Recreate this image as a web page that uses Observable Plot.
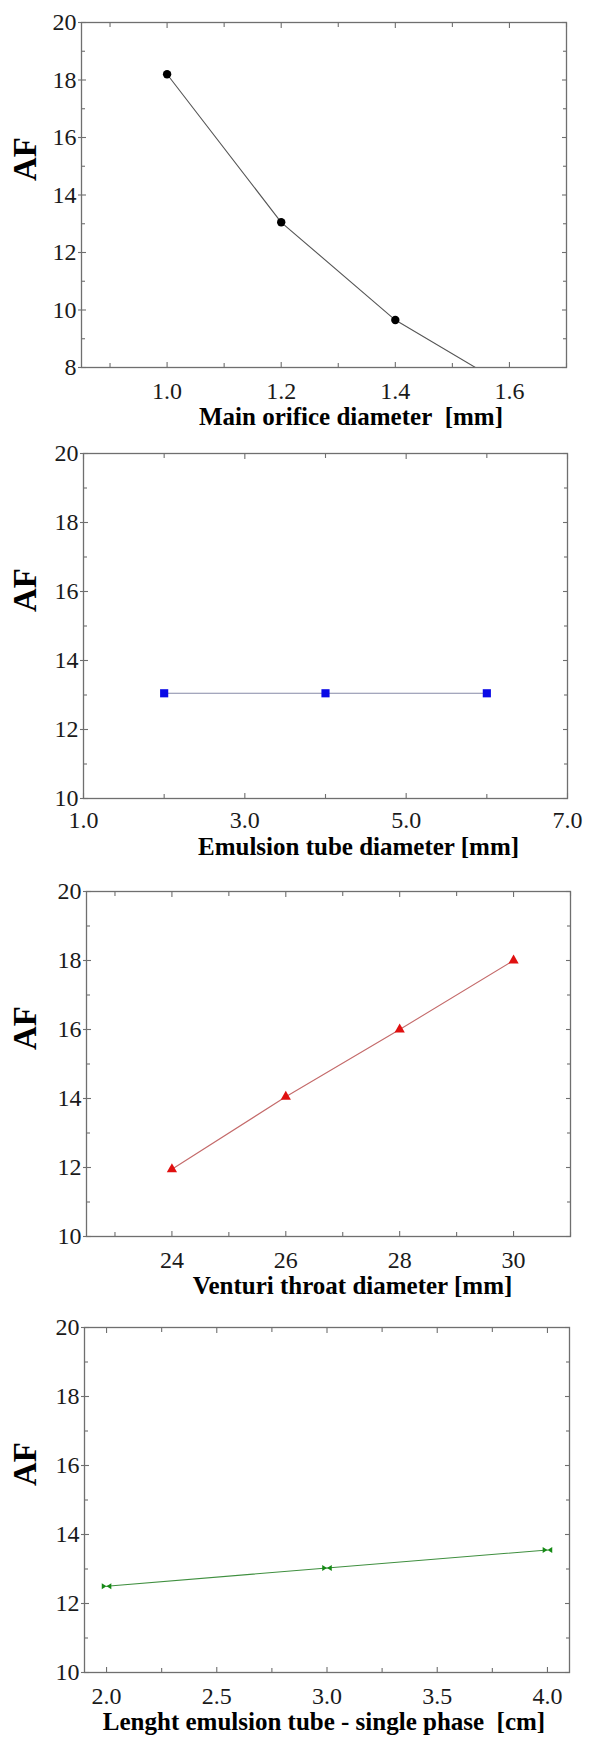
<!DOCTYPE html>
<html>
<head>
<meta charset="utf-8">
<script src="https://cdn.jsdelivr.net/npm/d3@7"></script>
<script src="https://cdn.jsdelivr.net/npm/@observablehq/plot@0.6"></script>
<style>
  html, body { margin: 0; padding: 0; background: #fff; }
  #chart { width: 591px; }
  #chart svg { display: block; }
  #chart svg text { font-family: 'Liberation Serif', 'Times New Roman', serif !important; }
</style>
</head>
<body>
<div id="chart"></div>
<script>
// ---------- data ----------
// Panel 1: main orifice diameter [mm] vs AF (last point falls below the axis and is clipped)
const orificeDiameter = [1.0, 1.2, 1.4, 1.6];
const afOrifice = [18.2, 13.05, 9.65, 7.3];
// Panel 2: emulsion tube diameter [mm] vs AF
const emulsionDiameter = [2, 4, 6];
const afEmulsion = [13.05, 13.05, 13.05];
// Panel 3: venturi throat diameter [mm] vs AF
const venturiDiameter = [24, 26, 28, 30];
const afVenturi = [11.95, 14.05, 16.0, 18.0];
// Panel 4: length emulsion tube - single phase [cm] vs AF
const emulsionLength = [2.0, 3.0, 4.0];
const afLength = [12.5, 13.03, 13.55];

// ---------- labels & ticks ----------
const yLabel = "AF";
const xLabels = [
  "Main orifice diameter\u00a0\u00a0[mm]",
  "Emulsion tube diameter [mm]",
  "Venturi throat diameter [mm]",
  "Lenght emulsion tube - single phase\u00a0\u00a0[cm]"
];
const xTicks1 = [1.0, 1.2, 1.4, 1.6];
const xMinor1 = [0.9, 1.1, 1.3, 1.5, 1.7];
const xTicks2 = [1, 3, 5, 7];
const xMinor2 = [2, 4, 6];
const xTicks3 = [24, 26, 28, 30];
const xMinor3 = [23, 25, 27, 29, 31];
const xTicks4 = [2.0, 2.5, 3.0, 3.5, 4.0];
const xMinor4 = [2.25, 2.75, 3.25, 3.75];
const yTicks1 = [8, 10, 12, 14, 16, 18, 20];
const yMinor1 = [9, 11, 13, 15, 17, 19];
const yTicks = [10, 12, 14, 16, 18, 20];
const yMinor = [11, 13, 15, 17, 19];

// custom bow-tie marker
const bowtie = {
  draw(ctx, size) {
    const w = Math.sqrt(size) * 0.75, h = w * 0.62;
    ctx.moveTo(-w, -h); ctx.lineTo(w, h); ctx.lineTo(w, -h); ctx.lineTo(-w, h); ctx.closePath();
  }
};

const serif = "Liberation Serif";
const frameColor = "#6f6f6f";

const panels = [
  {xs: orificeDiameter, ys: afOrifice, xDomain: [0.85, 1.7], yDomain: [8, 20],
   xTicks: xTicks1, xMinor: xMinor1, yTicks: yTicks1, yMinor: yMinor1, fmt: d3.format(".1f"),
   height: 431, ml: 81, right: 566, pad: 14, labelDx: 27, labelDy: 57,
   line: "#555555", fill: "#000000", symbol: "circle", r: 4.2, label: xLabels[0]},
  {xs: emulsionDiameter, ys: afEmulsion, xDomain: [1, 7], yDomain: [10, 20],
   xTicks: xTicks2, xMinor: xMinor2, yTicks, yMinor, fmt: d3.format(".1f"),
   height: 438, ml: 83, right: 567, pad: 12, labelDx: 33, labelDy: 56,
   line: "#868aa8", fill: "#0a0ae6", symbol: "square", r: 4.6, label: xLabels[1]},
  {xs: venturiDiameter, ys: afVenturi, xDomain: [22.5, 31], yDomain: [10, 20],
   xTicks: xTicks3, xMinor: xMinor3, yTicks, yMinor, fmt: d3.format("d"),
   height: 436, ml: 86, right: 570, pad: 14, labelDx: 24, labelDy: 57,
   line: "#c46a6a", fill: "#e01010", symbol: "triangle", r: 3.8, label: xLabels[2]},
  {xs: emulsionLength, ys: afLength, xDomain: [1.9, 4.1], yDomain: [10, 20],
   xTicks: xTicks4, xMinor: xMinor4, yTicks, yMinor, fmt: d3.format(".1f"),
   height: 435, ml: 84, right: 569, pad: 14, labelDx: -3, labelDy: 57,
   line: "#3f8f3f", fill: "#168a16", symbol: bowtie, r: 3.6, label: xLabels[3]}
];

const frameH = 345, mt = 22, W = 591;

for (const p of panels) {
  const data = p.xs.map((x, i) => ({x, y: p.ys[i]}));
  const tickStyle = {stroke: frameColor, strokeWidth: 1.1, fill: "none", label: null};
  const chart = Plot.plot({
    width: W,
    height: p.height,
    marginTop: mt,
    marginBottom: p.height - mt - frameH,
    marginLeft: p.ml,
    marginRight: W - p.right,
    x: {domain: p.xDomain},
    y: {domain: p.yDomain},
    style: "background: #fff; color: #1a1a1a; overflow: visible; font-family: 'Liberation Serif', serif;",
    marks: [
      Plot.line(data, {x: "x", y: "y", stroke: p.line, strokeWidth: 1.1, clip: true}),
      Plot.dot(data, {x: "x", y: "y", symbol: p.symbol, r: p.r, fill: p.fill, stroke: "none", clip: true}),
      Plot.frame({stroke: frameColor, strokeWidth: 1.3}),
      // inward ticks on all four sides
      Plot.axisX(p.xTicks, {anchor: "bottom", tickSize: -5, ...tickStyle}),
      Plot.axisX(p.xMinor, {anchor: "bottom", tickSize: -4, ...tickStyle}),
      Plot.axisX(p.xTicks, {anchor: "top", tickSize: -5, ...tickStyle}),
      Plot.axisX(p.xMinor, {anchor: "top", tickSize: -4, ...tickStyle}),
      Plot.axisY(p.yTicks, {anchor: "left", tickSize: -5, ...tickStyle}),
      Plot.axisY(p.yTicks, {anchor: "left", tickSize: 3, ...tickStyle}),
      Plot.axisY(p.yMinor, {anchor: "left", tickSize: -4, ...tickStyle}),
      Plot.axisY(p.yTicks, {anchor: "right", tickSize: -5, ...tickStyle}),
      Plot.axisY(p.yMinor, {anchor: "right", tickSize: -4, ...tickStyle}),
      // tick labels
      Plot.axisX(p.xTicks, {anchor: "bottom", tickSize: 0, tickPadding: p.pad, tickFormat: p.fmt,
        fontSize: 24, fontFamily: serif, fill: "#1a1a1a", label: null}),
      Plot.axisY(p.yTicks, {anchor: "left", tickSize: 0, tickPadding: 5, tickFormat: d3.format("d"),
        fontSize: 24, fontFamily: serif, fill: "#1a1a1a", label: null}),
      // axis titles
      Plot.text([p.label], {frameAnchor: "bottom", dy: p.labelDy, dx: p.labelDx, text: d => d,
        fontSize: 25, fontWeight: "bold", fill: "#000", fontFamily: serif}),
      Plot.text([yLabel], {frameAnchor: "left", dx: 25 - p.ml, dy: -14, rotate: -90, text: d => d,
        fontSize: 33, fontWeight: "bold", fill: "#000", fontFamily: serif})
    ]
  });
  document.getElementById("chart").appendChild(chart);
}
</script>
</body>
</html>
